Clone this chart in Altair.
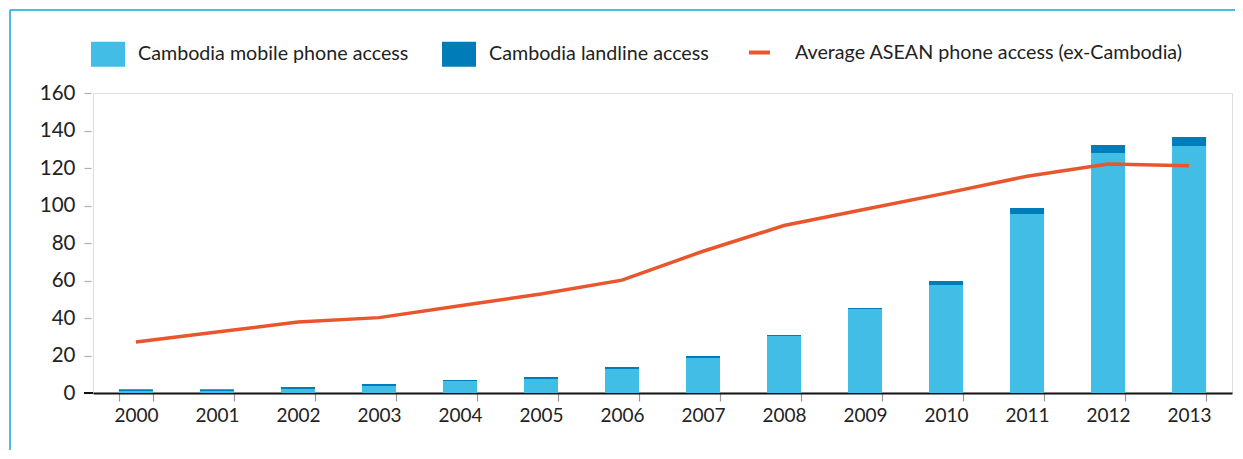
import altair as alt
import pandas as pd

years = [str(y) for y in range(2000, 2014)]
mobile = [1.1, 1.1, 2.2, 3.7, 6.4, 7.5, 12.8, 18.7, 30.4, 44.8, 57.6, 95.5, 128.0, 131.7]
landline = [0.9, 0.9, 1.0, 1.1, 0.5, 1.0, 1.1, 1.0, 0.5, 0.5, 2.1, 3.2, 4.3, 4.8]
asean = [27.2, 32.5, 37.9, 40.2, 46.5, 52.8, 60.2, 75.6, 89.3, 98.0, 106.6, 115.6, 122.1, 121.2]
y_ticks = [0, 20, 40, 60, 80, 100, 120, 140, 160]

s_mobile = "Cambodia mobile phone access"
s_land = "Cambodia landline access"
s_line = "Average ASEAN phone access (ex-Cambodia)"

bars_rows = []
for i, y in enumerate(years):
    bars_rows.append({"year": y, "series": s_mobile, "value": mobile[i], "ord": 0})
    bars_rows.append({"year": y, "series": s_land, "value": landline[i], "ord": 1})
bars_df = pd.DataFrame(bars_rows)
line_df = pd.DataFrame({"year": years, "series": [s_line] * len(years), "value": asean})

FONT = "Lato"
x_axis = alt.Axis(
    labelAngle=0, labelFontSize=19, labelColor="#222222", labelFont=FONT,
    labelPadding=5, domainColor="#111111", domainWidth=2,
    tickColor="#999999", tickSize=8, tickWidth=1.2, tickBand="extent",
)
y_axis = alt.Axis(
    values=y_ticks, grid=False, domain=False, offset=2,
    tickColor="#b0b0b0", tickSize=7, tickWidth=1.2,
    labelFontSize=20.5, labelColor="#222222", labelFont=FONT, labelPadding=9,
)
x_scale = alt.Scale(paddingInner=0.58, paddingOuter=0.32)
y_scale = alt.Scale(domain=[0, 160], nice=False)

bars = alt.Chart(bars_df).mark_bar().encode(
    x=alt.X("year:N", sort=years, title=None, scale=x_scale, axis=x_axis),
    y=alt.Y("value:Q", stack="zero", title=None, scale=y_scale, axis=y_axis),
    fill=alt.Fill(
        "series:N",
        scale=alt.Scale(domain=[s_mobile, s_land], range=["#41BDE6", "#007DB8"]),
        legend=alt.Legend(
            title=None, orient="none", legendX=-2, legendY=-56, direction="horizontal",
            symbolType="M-1,-0.735L1,-0.735L1,0.735L-1,0.735Z", symbolSize=1156,
            symbolStrokeWidth=0, labelFontSize=19.7, labelFont=FONT, labelColor="#222222",
            labelOffset=13, columnPadding=33, padding=0, labelLimit=500,
        ),
    ),
    order=alt.Order("ord:Q", sort="ascending"),
)

line = alt.Chart(line_df).mark_line(strokeWidth=3.5).encode(
    x=alt.X("year:N", sort=years, title=None, scale=x_scale, axis=x_axis),
    y=alt.Y("value:Q", title=None, scale=y_scale, axis=y_axis),
    stroke=alt.Stroke(
        "series:N",
        scale=alt.Scale(domain=[s_line], range=["#E9552C"]),
        legend=alt.Legend(
            title=None, orient="none", legendX=654, legendY=-53, direction="horizontal",
            symbolType="stroke", symbolSize=441, symbolStrokeWidth=4,
            labelFontSize=19.7, labelFont=FONT, labelColor="#222222",
            labelOffset=23, padding=0, labelLimit=600,
        ),
    ),
)

frame_data = alt.Data(values=[{"k": 1}])
frame_left = alt.Chart(frame_data).mark_rule(color="#12A5D8", strokeWidth=1.5).encode(
    x=alt.value(-83), y=alt.value(-83), y2=alt.value(370)
)
frame_top = alt.Chart(frame_data).mark_rule(color="#12A5D8", strokeWidth=1.5).encode(
    x=alt.value(-83), x2=alt.value(1160), y=alt.value(-83)
)
zero_tick = alt.Chart(frame_data).mark_rule(color="#111111", strokeWidth=2).encode(
    x=alt.value(-9), x2=alt.value(0), y=alt.value(300)
)

chart = alt.layer(bars, line, zero_tick, frame_left, frame_top).properties(
    width=1139,
    height=300,
    autosize=alt.AutoSizeParams(type="none"),
    padding={"left": 85, "top": 85, "right": 3, "bottom": 57},
).configure_view(
    stroke="#DDDDDD", strokeWidth=1.5
).configure_axis(
    labelOverlap=False, labelBound=False, labelFlush=False
).configure(
    font=FONT
)

chart.save("out.html", embed_options={"renderer": "svg", "actions": False})
